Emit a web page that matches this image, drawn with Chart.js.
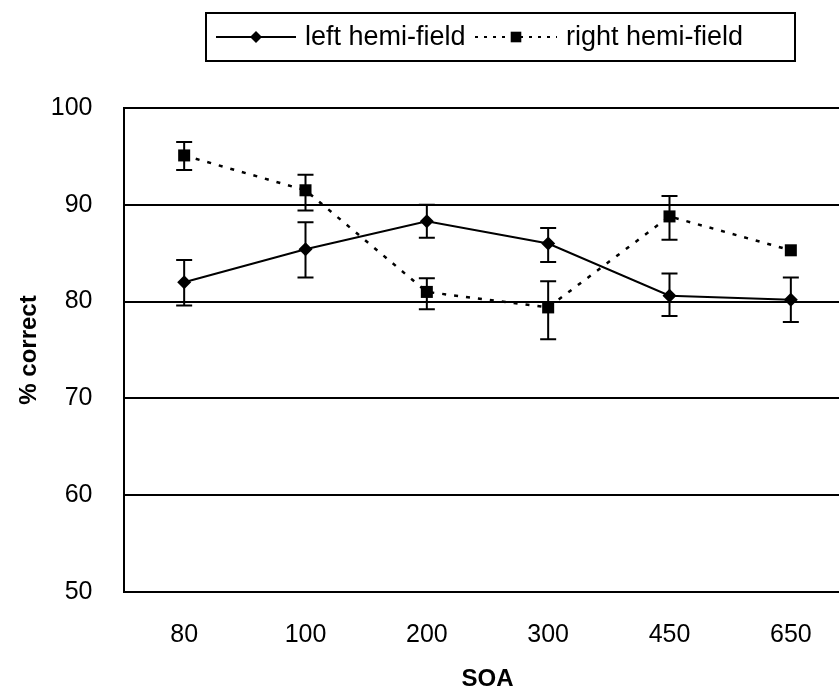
<!DOCTYPE html>
<html lang="en">
<head>
    <meta charset="UTF-8">
    <title>SOA - % correct</title>
    <script src="https://cdn.jsdelivr.net/npm/chart.js@4.4.1/dist/chart.umd.min.js"></script>
    <style>
        html, body {
            margin: 0;
            padding: 0;
            background: #fff;
            overflow: hidden;
        }
        canvas { display: block; }
    </style>
</head>
<body>
    <canvas id="chart" width="860" height="691"></canvas>

    <script>
        // data
        const categories = ['80', '100', '200', '300', '450', '650'];
        const leftMean = [82.0, 85.4, 88.3, 86.0, 80.6, 80.2];
        const leftHigh = [84.3, 88.2, 90.0, 87.6, 82.9, 82.5];
        const leftLow = [79.6, 82.5, 86.6, 84.1, 78.5, 77.9];
        const rightMean = [95.1, 91.5, 81.0, 79.4, 88.8, 85.3];
        const rightHigh = [96.5, 93.1, 82.4, 82.1, 90.9, null];
        const rightLow = [93.6, 89.4, 79.2, 76.1, 86.4, null];
        const seriesNames = ['left hemi-field', 'right hemi-field'];

        const FONT = '"Liberation Sans", Arial, sans-serif';

        // error bars, drawn through the chart's own scales
        const errorBars = {
            id: 'errorBars',
            beforeDatasetsDraw(chart) {
                const ctx = chart.ctx;
                const x = chart.scales.x, y = chart.scales.y;
                const sets = [[leftHigh, leftLow], [rightHigh, rightLow]];
                ctx.save();
                ctx.strokeStyle = '#000';
                ctx.lineWidth = 2;
                sets.forEach(([hi, lo]) => {
                    categories.forEach((c, i) => {
                        if (hi[i] == null || lo[i] == null) return;
                        const px = x.getPixelForValue(i);
                        const top = y.getPixelForValue(hi[i]);
                        const bot = y.getPixelForValue(lo[i]);
                        ctx.beginPath();
                        ctx.moveTo(px, top); ctx.lineTo(px, bot);
                        ctx.moveTo(px - 8, top); ctx.lineTo(px + 8, top);
                        ctx.moveTo(px - 8, bot); ctx.lineTo(px + 8, bot);
                        ctx.stroke();
                    });
                });
                ctx.restore();
            }
        };

        // boxed legend at the top
        const boxLegend = {
            id: 'boxLegend',
            afterDraw(chart) {
                const ctx = chart.ctx;
                const ds = chart.data.datasets;
                ctx.save();
                ctx.strokeStyle = '#000';
                ctx.lineWidth = 2;
                ctx.strokeRect(206, 13, 589, 48);
                const cy = 37;
                const items = [
                    { x0: 216, x1: 296, tx: 305 },
                    { x0: 475, x1: 557, tx: 566 }
                ];
                items.forEach((it, k) => {
                    ctx.beginPath();
                    ctx.setLineDash(k === 0 ? [] : [3, 6]);
                    ctx.lineWidth = 2;
                    ctx.moveTo(it.x0, cy); ctx.lineTo(it.x1, cy);
                    ctx.stroke();
                    ctx.setLineDash([]);
                    ctx.fillStyle = '#000';
                    Chart.helpers.drawPoint(ctx, {
                        pointStyle: ds[k].pointStyle,
                        radius: ds[k].pointRadius - 1,
                        borderWidth: 0
                    }, (it.x0 + it.x1) / 2, cy);
                    ctx.font = '27px ' + FONT;
                    ctx.textBaseline = 'middle';
                    ctx.fillText(seriesNames[k], it.tx, cy + 1);
                });
                ctx.restore();
            }
        };

        new Chart(document.getElementById('chart'), {
            type: 'line',
            data: {
                labels: categories,
                datasets: [{
                    label: seriesNames[0],
                    data: leftMean,
                    borderColor: '#000',
                    backgroundColor: '#000',
                    borderWidth: 2,
                    pointStyle: 'rectRot',
                    pointRadius: 7,
                    pointBorderWidth: 0,
                    tension: 0
                }, {
                    label: seriesNames[1],
                    data: rightMean,
                    borderColor: '#000',
                    backgroundColor: '#000',
                    borderWidth: 2.5,
                    borderDash: [4, 8],
                    pointStyle: 'rect',
                    pointRadius: 8.5,
                    pointBorderWidth: 0,
                    tension: 0
                }]
            },
            options: {
                responsive: false,
                animation: false,
                devicePixelRatio: 1,
                layout: { padding: { top: 108, left: 0, right: 7.5, bottom: 0 } },
                plugins: {
                    legend: { display: false },
                    tooltip: { enabled: false }
                },
                scales: {
                    x: {
                        offset: true,
                        grid: { display: false, drawTicks: false },
                        border: { display: false },
                        ticks: {
                            color: '#000',
                            padding: 28,
                            font: { family: FONT, size: 25 }
                        },
                        title: {
                            display: true,
                            text: 'SOA',
                            color: '#000',
                            padding: { top: 0, bottom: -3 },
                            font: { family: FONT, size: 24, weight: 'bold' }
                        },
                        afterFit(s) { s.height = 99; }
                    },
                    y: {
                        min: 50,
                        max: 100,
                        ticks: {
                            stepSize: 10,
                            color: '#000',
                            padding: 31,
                            font: { family: FONT, size: 25 }
                        },
                        grid: { color: '#000', lineWidth: 2, drawTicks: false },
                        border: { display: true, color: '#000', width: 2 },
                        title: {
                            display: true,
                            text: '% correct',
                            color: '#000',
                            padding: { top: 15, bottom: 0 },
                            font: { family: FONT, size: 24, weight: 'bold' }
                        },
                        afterFit(s) { s.width = 123.5; }
                    }
                }
            },
            plugins: [errorBars, boxLegend]
        });
    </script>
</body>
</html>
